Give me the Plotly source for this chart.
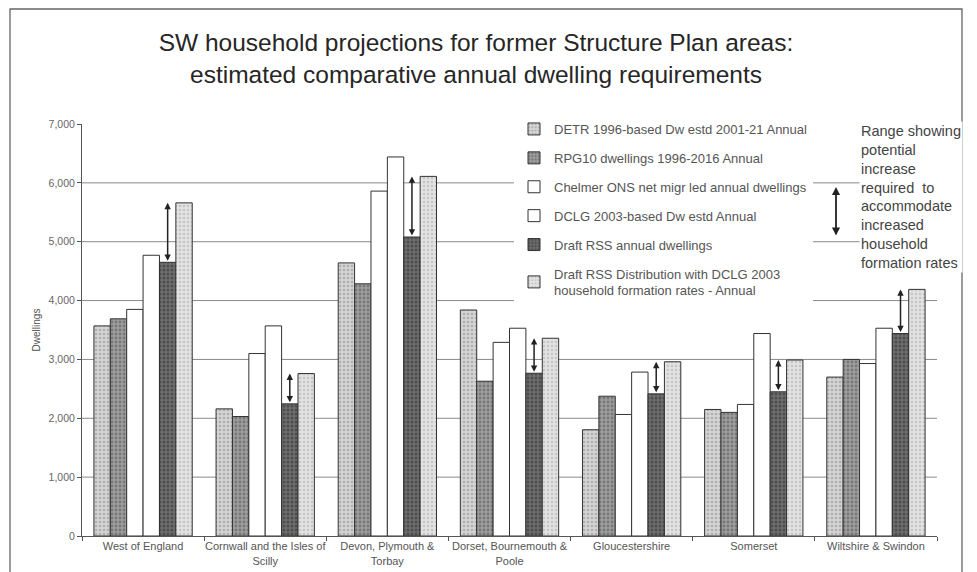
import plotly.graph_objects as go

# Structure Plan areas (x categories)
areas = [
    "West of England",
    "Cornwall and the Isles of<br>Scilly",
    "Devon, Plymouth &<br>Torbay",
    "Dorset, Bournemouth &<br>Poole",
    "Gloucestershire",
    "Somerset",
    "Wiltshire & Swindon",
]

# Annual dwelling requirements per area, one list per projection
detr_1996 = [3570, 2160, 4640, 3840, 1805, 2150, 2700]
rpg10 = [3690, 2030, 4285, 2630, 2375, 2100, 3000]
chelmer = [3850, 3100, 5860, 3290, 2065, 2235, 2930]
dclg_2003 = [4770, 3570, 6440, 3530, 2785, 3440, 3530]
draft_rss = [4650, 2245, 5080, 2765, 2415, 2450, 3440]
draft_rss_dclg = [5660, 2760, 6110, 3360, 2960, 2990, 4190]

series_names = [
    "DETR 1996-based Dw estd 2001-21 Annual",
    "RPG10 dwellings 1996-2016 Annual",
    "Chelmer ONS net migr led annual dwellings",
    "DCLG 2003-based Dw estd Annual",
    "Draft RSS annual dwellings",
    "Draft RSS Distribution with DCLG 2003<br>household formation rates - Annual",
]
series_values = [detr_1996, rpg10, chelmer, dclg_2003, draft_rss, draft_rss_dclg]

y_ticks = [0, 1000, 2000, 3000, 4000, 5000, 6000, 7000]

# fill / speckle styling for each series
styles = [
    dict(bg="#d4d4d4", fg="#8a8a8a", shape=".", solidity=0.35),
    dict(bg="#9e9e9e", fg="#505050", shape=".", solidity=0.4),
    dict(bg="#ffffff", fg="#ffffff", shape="", solidity=0.2),
    dict(bg="#ffffff", fg="#ffffff", shape="", solidity=0.2),
    dict(bg="#6e6e6e", fg="#2e2e2e", shape=".", solidity=0.45),
    dict(bg="#e2e2e2", fg="#a8a8a8", shape=".", solidity=0.3),
]

FONT = "Liberation Sans, Arial, sans-serif"
BARGAP = 0.195

fig = go.Figure()
for k, (name, vals, st) in enumerate(zip(series_names, series_values, styles)):
    fig.add_trace(go.Bar(
        x=areas,
        y=vals,
        name=name,
        legendgroup=str(k),
        marker=dict(
            color=st["bg"],
            line=dict(color="#333333", width=1),
            pattern=dict(shape=st["shape"], bgcolor=st["bg"], fgcolor=st["fg"],
                         size=4, solidity=st["solidity"]),
        ),
        hoverinfo="skip",
    ))

# plot area in pixels: left 82, right 937, top 124, bottom 536
L, R, T, B = 82, 937, 124, 536
W, H = R - L, B - T


def px_x(p):
    return (p - L) / W


def px_y(p):
    return (B - p) / H


shapes = []
# horizontal gridlines behind the bars
for v in y_ticks[1:-1]:
    shapes.append(dict(type="line", xref="paper", yref="y", x0=0, x1=1, y0=v, y1=v,
                       line=dict(color="#8a8a8a", width=1), layer="below"))
# outer frame
shapes.append(dict(type="rect", xref="paper", yref="paper",
                   x0=px_x(10), x1=px_x(962), y0=px_y(585), y1=px_y(9),
                   line=dict(color="#666666", width=1.3), fillcolor="rgba(0,0,0,0)",
                   layer="below"))

annotations = []
# double arrows: from Draft RSS up to Draft RSS with DCLG 2003 rates, over the Draft RSS bar
n_series = len(series_values)
slot = (1 - BARGAP) / n_series
offset5 = -(1 - BARGAP) / 2 + 4.5 * slot
for i in range(len(areas)):
    annotations.append(dict(
        x=i + offset5, y=draft_rss_dclg[i], ax=i + offset5, ay=draft_rss[i],
        xref="x", yref="y", axref="x", ayref="y", text="", showarrow=True,
        arrowhead=2, startarrowhead=2, arrowside="end+start", arrowsize=0.85,
        arrowwidth=1.5, arrowcolor="#222222", standoff=0, startstandoff=0,
    ))

# explanatory note on the right
annotations.append(dict(
    xref="paper", yref="paper", x=px_x(859), y=px_y(121), xanchor="left", yanchor="top",
    align="left", showarrow=False, bgcolor="#ffffff",
    text="Range showing<br>potential<br>increase<br>required  to<br>accommodate<br>increased<br>household<br>formation rates",
    font=dict(family=FONT, size=14.5, color="#444444"),
))
annotations.append(dict(
    xref="paper", yref="paper", x=px_x(836), y=px_y(187), ax=0, ay=50,
    text="", showarrow=True, arrowhead=2, startarrowhead=2, arrowside="end+start",
    arrowsize=0.9, arrowwidth=1.8, arrowcolor="#222222", standoff=0, startstandoff=0,
))

fig.update_layout(
    width=977, height=572,
    margin=dict(l=L, r=977 - R, t=T, b=572 - B, autoexpand=False),
    paper_bgcolor="#ffffff", plot_bgcolor="#ffffff",
    barmode="group", bargap=BARGAP, bargroupgap=0,
    font=dict(family=FONT, color="#555555"),
    title=dict(
        text="SW household projections for former Structure Plan areas:<br>estimated comparative annual dwelling requirements",
        x=476 / 977, xanchor="center", xref="container",
        y=1 - 51 / 572, yanchor="top", yref="container",
        font=dict(family=FONT, size=24.5, color="#262626"),
    ),
    xaxis=dict(
        type="category", showline=True, linecolor="#555555", linewidth=1,
        ticks="outside", tickson="boundaries", ticklen=4, tickcolor="#555555",
        tickangle=0, automargin=False,
        tickfont=dict(size=11, color="#555555"), showgrid=False,
    ),
    yaxis=dict(
        range=[0, 7000], tickvals=y_ticks, tickformat=",", showline=True,
        linecolor="#555555", linewidth=1, ticks="outside", ticklen=4,
        tickcolor="#555555", tickfont=dict(size=10.5, color="#666666"),
        showgrid=False, zeroline=False, automargin=False,
        title=dict(text="Dwellings", standoff=6, font=dict(size=10, color="#555555")),
    ),
    legend=dict(
        x=px_x(514), y=px_y(114), xanchor="left", yanchor="top",
        bgcolor="#ffffff", borderwidth=0, font=dict(family=FONT, size=13, color="#555555"),
        tracegroupgap=9, itemwidth=30, traceorder="grouped",
    ),
    shapes=shapes,
    annotations=annotations,
)

fig.write_html("out.html")
